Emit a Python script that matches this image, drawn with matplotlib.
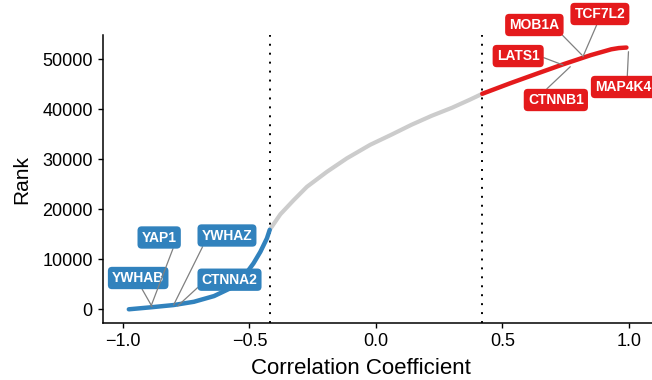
import matplotlib.pyplot as plt

plt.rcParams['font.family'] = ['Liberation Sans', 'DejaVu Sans']

# points
corr = [-0.977, -0.89, -0.80, -0.72, -0.64, -0.576, -0.523, -0.484, -0.457, -0.431, -0.42,
        -0.378, -0.326, -0.273, -0.194, -0.115, -0.023, 0.06, 0.14, 0.22, 0.30, 0.37, 0.42,
        0.53, 0.64, 0.74, 0.85, 0.93, 0.96, 0.99]
rank = [0, 400, 850, 1500, 2650, 4200, 6500, 9200, 11500, 14200, 15900,
        19000, 21800, 24500, 27500, 30200, 32900, 34900, 36900, 38700, 40300, 41900, 43100,
        45200, 47200, 49000, 50850, 52000, 52250, 52350]
cutoff = 0.42

# labelled genes: name, point (corr, rank), label centre (corr, rank)
low_genes = ['YWHAB', 'YAP1', 'YWHAZ', 'CTNNA2']
low_pts = [(-0.885, 520), (-0.889, 660), (-0.800, 860), (-0.784, 660)]
low_lab = [(-0.94, 6260), (-0.857, 14360), (-0.589, 14760), (-0.579, 5920)]
low_rel = [(0.53, 0), (0.94, 0), (0.06, 0), (0, 0.2)]

high_genes = ['MOB1A', 'TCF7L2', 'LATS1', 'CTNNB1', 'MAP4K4']
high_pts = [(0.814, 50860), (0.818, 50520), (0.739, 48860), (0.768, 48520), (0.998, 51520)]
high_lab = [(0.626, 56860), (0.885, 59060), (0.562, 50650), (0.711, 41860), (0.977, 44460)]
high_rel = [(0.97, 0.1), (0.47, 0), (1, 0.5), (0.26, 1), (0.57, 1)]

blue = '#3182bd'
red = '#e41a1c'
grey = '#cccccc'

fig = plt.figure(figsize=(6.52, 3.80), dpi=100)
ax = fig.add_axes([102.5 / 652, 56.7 / 380, (652 - 102.5) / 652, (323.3 - 35) / 380])

lo = [i for i, c in enumerate(corr) if c <= -cutoff]
mid = [i for i, c in enumerate(corr) if -cutoff <= c <= cutoff]
hi = [i for i, c in enumerate(corr) if c >= cutoff]
ax.plot([corr[i] for i in mid], [rank[i] for i in mid], color=grey, lw=3, solid_capstyle='butt',
        solid_joinstyle='round', zorder=2)
ax.plot([corr[i] for i in lo], [rank[i] for i in lo], color=blue, lw=3.2, solid_capstyle='round',
        solid_joinstyle='round', zorder=3)
ax.plot([corr[i] for i in hi], [rank[i] for i in hi], color=red, lw=3.2, solid_capstyle='round',
        solid_joinstyle='round', zorder=3)

ax.axvline(-cutoff, color='black', lw=1.4, ls=(0, (1, 3.6)), zorder=1)
ax.axvline(cutoff, color='black', lw=1.4, ls=(0, (1, 3.6)), zorder=1)

def label(names, pts, labs, rels, col):
    for name, p, l, r in zip(names, pts, labs, rels):
        ax.annotate(name, xy=p, xytext=l, ha='center', va='center',
                    color='white', fontsize=10, fontweight='bold',
                    bbox=dict(boxstyle='round,pad=0.3,rounding_size=0.3', fc=col, ec='none'),
                    arrowprops=dict(arrowstyle='-', color='#808080', lw=0.9,
                                    shrinkA=0, shrinkB=0, relpos=r),
                    annotation_clip=False, zorder=5)

label(low_genes, low_pts, low_lab, low_rel, blue)
label(high_genes, high_pts, high_lab, high_rel, red)

ax.set_xlim(-1.081, 1.091)
ax.set_ylim(-2800, 54860)
ax.set_xticks([-1.0, -0.5, 0.0, 0.5, 1.0])
ax.set_yticks([0, 10000, 20000, 30000, 40000, 50000])
ax.set_xticklabels(['\u22121.0', '\u22120.5', '0.0', '0.5', '1.0'])
ax.spines['top'].set_visible(False)
ax.spines['right'].set_visible(False)
for s in ['left', 'bottom']:
    ax.spines[s].set_linewidth(1.1)
ax.tick_params(labelsize=13, length=3.5, width=1.0, colors='black')
ax.set_xlabel('Correlation Coefficient', fontsize=16)
ax.xaxis.set_label_coords((361 - 102.5) / 549.5, -0.12)
ax.set_ylabel('Rank', fontsize=15, labelpad=8)

plt.savefig('out.png', dpi=100)
